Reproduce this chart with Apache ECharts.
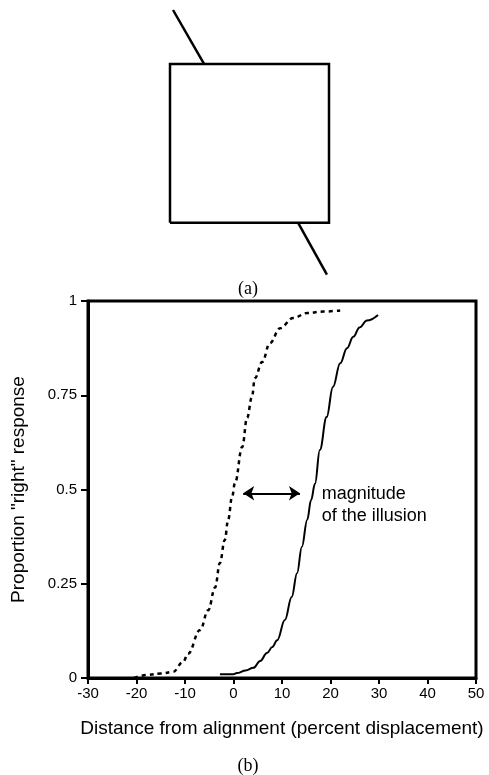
<!DOCTYPE html>
<html>
<head>
<meta charset="utf-8">
<script src="https://cdn.jsdelivr.net/npm/echarts@6/dist/echarts.min.js"></script>
<style>
  html, body { margin: 0; padding: 0; background: #fff; }
  #chart { width: 489px; height: 775px; }
</style>
</head>
<body>
<div id="chart"></div>
<script>
// (a) figure: square with an oblique line passing behind it
const squareX = [0, 100, 100, 0, 0];
const squareY = [0, 0, 100, 100, 0];
const upperLineX = [1.9, 21.4];
const upperLineY = [134, 100];
const lowerLineX = [80.5, 98.7];
const lowerLineY = [0, -32.7];

// (b) psychometric curves
const xTicks = [-30, -20, -10, 0, 10, 20, 30, 40, 50];
const yTicks = [0, 0.25, 0.5, 0.75, 1];
const dottedX = [-20.5, -17.8, -15, -12.5, -10.4, -9.4, -6.9, -5.2, -3.8, -2.8, -1.8, -1.1, -0.3, 0.3, 1.8, 2.8, 3.8, 4.4, 5.9, 7.5, 9.6, 12.3, 15.2, 18.5, 22];
const dottedY = [0, 0.008, 0.012, 0.016, 0.042, 0.064, 0.127, 0.18, 0.24, 0.305, 0.366, 0.42, 0.48, 0.517, 0.613, 0.69, 0.745, 0.795, 0.838, 0.888, 0.928, 0.955, 0.968, 0.972, 0.975];
const solidX = [-2.8, 0, 0.7, 2.5, 4.1, 5.5, 6.9, 8, 9, 10.6, 12, 13.1, 14.1, 15.2, 16, 16.8, 17.8, 19.2, 20.5, 22, 23.4, 24.7, 26, 27.5, 29.8];
const solidY = [0.01, 0.01, 0.013, 0.02, 0.027, 0.045, 0.066, 0.082, 0.1, 0.154, 0.215, 0.278, 0.348, 0.42, 0.472, 0.515, 0.605, 0.692, 0.772, 0.835, 0.875, 0.905, 0.93, 0.948, 0.963];
const arrowX = [2.0, 13.7];
const arrowY = 0.49;
const noteX = 18.2;
const noteY = 0.49;

const pairs = (xs, ys) => xs.map((x, i) => [x, ys[i]]);
const sans = 'Liberation Sans';

const chart = echarts.init(document.getElementById('chart'));
chart.setOption({
  animation: false,
  backgroundColor: '#fff',
  title: [
    { text: '(a)', left: 248, top: 280, textAlign: 'center', padding: 0,
      textStyle: { fontFamily: 'Liberation Serif', fontWeight: 'normal', fontSize: 18, color: '#000' } },
    { text: '(b)', left: 248, top: 757, textAlign: 'center', padding: 0,
      textStyle: { fontFamily: 'Liberation Serif', fontWeight: 'normal', fontSize: 18, color: '#000' } }
  ],
  grid: [
    { left: 88, right: 13, top: 301, bottom: 97, show: true, borderColor: '#000', borderWidth: 3 },
    { left: 170, right: 160, top: 10, bottom: 500 }
  ],
  xAxis: [
    {
      type: 'value', gridIndex: 0, min: xTicks[0], max: xTicks[xTicks.length - 1], interval: 10,
      name: 'Distance from alignment (percent displacement)', nameLocation: 'middle', nameGap: 41,
      nameTextStyle: { fontFamily: sans, fontSize: 19, color: '#000' },
      axisLine: { onZero: false, lineStyle: { color: '#000', width: 3 } },
      axisTick: { length: 6, lineStyle: { color: '#000', width: 2 } },
      axisLabel: { fontFamily: sans, fontSize: 15, color: '#000', margin: 8 },
      splitLine: { show: false }
    },
    { type: 'value', gridIndex: 1, min: 0, max: 100, show: false }
  ],
  yAxis: [
    {
      type: 'value', gridIndex: 0, min: yTicks[0], max: yTicks[yTicks.length - 1], interval: 0.25,
      name: 'Proportion "right" response', nameLocation: 'middle', nameGap: 60,
      nameTextStyle: { fontFamily: sans, fontSize: 19, color: '#000' },
      axisLine: { onZero: false, lineStyle: { color: '#000', width: 3 } },
      axisTick: { length: 7, lineStyle: { color: '#000', width: 2 } },
      axisLabel: { fontFamily: sans, fontSize: 15, color: '#000', margin: 11,
        formatter: v => String(v) },
      splitLine: { show: false }
    },
    { type: 'value', gridIndex: 1, min: -33, max: 134, show: false }
  ],
  series: [
    { type: 'line', xAxisIndex: 1, yAxisIndex: 1, data: pairs(squareX, squareY), symbol: 'none',
      lineStyle: { color: '#000', width: 2.5, join: 'miter' } },
    { type: 'line', xAxisIndex: 1, yAxisIndex: 1, data: pairs(upperLineX, upperLineY), symbol: 'none',
      lineStyle: { color: '#000', width: 2.5 } },
    { type: 'line', xAxisIndex: 1, yAxisIndex: 1, data: pairs(lowerLineX, lowerLineY), symbol: 'none',
      lineStyle: { color: '#000', width: 2.5 } },
    { type: 'line', data: pairs(dottedX, dottedY), symbol: 'none', smooth: 0.4, smoothMonotone: 'x',
      lineStyle: { color: '#000', width: 2.5, type: [4, 4], cap: 'butt' } },
    { type: 'line', data: pairs(solidX, solidY), symbol: 'none', smooth: 0.4, smoothMonotone: 'x',
      lineStyle: { color: '#000', width: 2 } },
    { type: 'lines', coordinateSystem: 'cartesian2d',
      symbol: ['arrow', 'arrow'], symbolSize: 11,
      lineStyle: { color: '#000', width: 2, opacity: 1 },
      data: [{ coords: [[arrowX[0], arrowY], [arrowX[1], arrowY]] }] }
  ]
});

const notePos = chart.convertToPixel({ gridIndex: 0 }, [noteX, noteY]);
chart.setOption({
  graphic: [{
    type: 'text', left: notePos[0], top: notePos[1] - 10,
    style: { text: 'magnitude\nof the illusion', font: '18px "Liberation Sans"', fill: '#000', lineHeight: 22 }
  }]
});
</script>
</body>
</html>
